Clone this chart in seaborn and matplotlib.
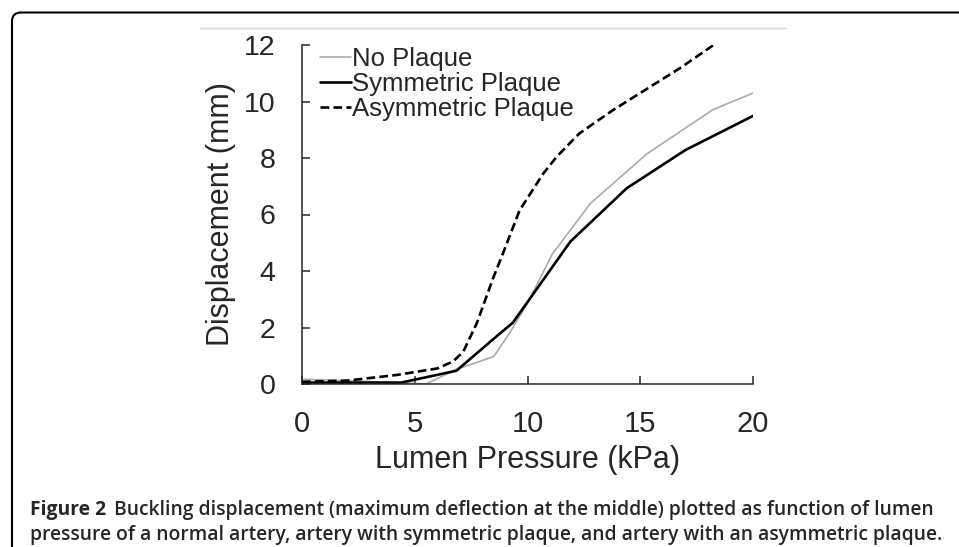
import matplotlib
matplotlib.use("Agg")
import matplotlib.pyplot as plt
import seaborn as sns
from matplotlib.patches import PathPatch
from matplotlib.path import Path
from matplotlib.lines import Line2D
from matplotlib.transforms import IdentityTransform

# values (kPa -> mm)
pressure_no = [0, 2.0, 5.5, 6.85, 8.5, 9.2, 10.0, 11.1, 12.8, 15.3, 18.2, 20.0]
disp_no = [0.17, 0.12, 0.0, 0.52, 0.97, 1.8, 2.86, 4.6, 6.4, 8.15, 9.7, 10.3]

pressure_sym = [0, 4.4, 6.85, 8.5, 9.35, 11.9, 14.4, 17.0, 20.0]
disp_sym = [0.05, 0.05, 0.47, 1.6, 2.17, 5.04, 6.93, 8.28, 9.49]

pressure_asym = [0, 2.0, 4.2, 6.0, 6.7, 7.15, 7.75, 8.5, 8.9, 9.65, 10.7, 11.3, 12.3, 13.8, 15.3, 16.8, 18.25]
disp_asym = [0.08, 0.12, 0.32, 0.55, 0.8, 1.14, 2.15, 3.8, 4.6, 6.15, 7.45, 8.05, 8.87, 9.7, 10.45, 11.2, 12.0]

labels = ['No Plaque', 'Symmetric Plaque', 'Asymmetric Plaque']
x_ticks = [0, 5, 10, 15, 20]
y_ticks = [0, 2, 4, 6, 8, 10, 12]

sns.set_style("ticks")
plt.rcParams['font.family'] = ['Liberation Sans', 'DejaVu Sans']

W, H = 959, 547
fig = plt.figure(figsize=(W / 100, H / 100), dpi=100)
ax = fig.add_axes([302 / W, 1 - 384 / H, 451 / W, 339 / H])

sns.lineplot(x=pressure_no, y=disp_no, ax=ax, color='#ababab', lw=1.2, label=labels[0])
sns.lineplot(x=pressure_sym, y=disp_sym, ax=ax, color='black', lw=1.9, label=labels[1])
sns.lineplot(x=pressure_asym, y=disp_asym, ax=ax, color='black', lw=1.9,
             linestyle=(0, (3.3, 1.6)), label=labels[2])

ax.set_xlim(0, 20)
ax.set_ylim(0, 12)
ax.set_xticks(x_ticks)
ax.set_yticks(y_ticks)
ax.tick_params(axis='x', direction='in', length=6, width=1.1, pad=19, labelsize=21)
ax.tick_params(axis='y', direction='in', length=6, width=1.1, pad=19, labelsize=20.5)
for s in ['top', 'right']:
    ax.spines[s].set_visible(False)
for s in ['left', 'bottom']:
    ax.spines[s].set_linewidth(1.1)

ax.set_xlabel('Lumen Pressure (kPa)', fontsize=22, labelpad=5)
ax.set_ylabel('Displacement (mm)', fontsize=22, labelpad=6)

ax.legend(loc='upper left', bbox_to_anchor=(0.04, 0.995), frameon=False, fontsize=18.5,
          handlelength=1.2, handletextpad=0.05, labelspacing=0.05, borderpad=0,
          borderaxespad=0)

# page frame: left side + top with a rounded corner, open to the right/bottom
top = H - 12.5
r = 9
frame_path = Path([(12, -10), (12, top - r), (12, top), (12 + r, top), (W + 20, top)],
                  [Path.MOVETO, Path.LINETO, Path.CURVE3, Path.CURVE3, Path.LINETO])
fig.add_artist(PathPatch(frame_path, transform=IdentityTransform(), fill=False,
                         lw=1.5, ec='black'))
fig.add_artist(Line2D([200, 786], [H - 28, H - 28], transform=IdentityTransform(),
                      color='#d9d9d9', lw=1))

# caption
cap_size = 13.85
t1 = fig.text(30 / W, 1 - 515 / H, 'Figure 2', fontsize=cap_size, family='Open Sans',
              fontweight='bold', va='baseline')
fig.canvas.draw()
bb = t1.get_window_extent()
fig.text((bb.x1 + 8) / W, 1 - 515 / H,
         'Buckling displacement (maximum deflection at the middle) plotted as function of lumen',
         fontsize=cap_size, family='Open Sans', fontweight='semibold', va='baseline')
fig.text(30 / W, 1 - 540 / H,
         'pressure of a normal artery, artery with symmetric plaque, and artery with an asymmetric plaque.',
         fontsize=cap_size, family='Open Sans', fontweight='semibold', va='baseline')

fig.savefig('out.png', dpi=100)
